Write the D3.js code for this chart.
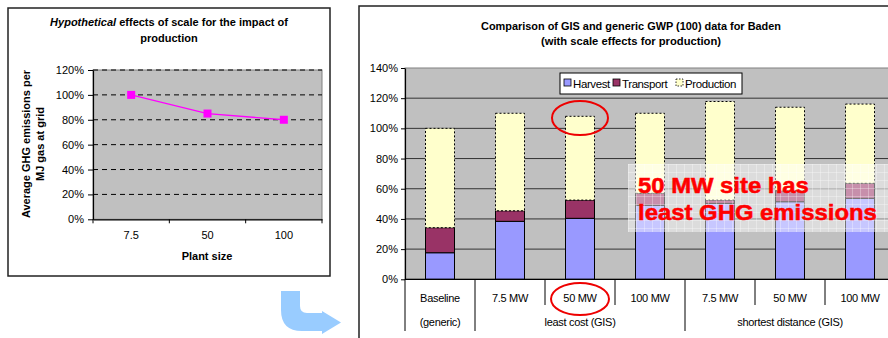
<!DOCTYPE html>
<html>
<head>
<meta charset="utf-8">
<script src="https://cdn.jsdelivr.net/npm/d3@7/dist/d3.min.js"></script>
<style>
  html, body { margin: 0; padding: 0; background: #fff; }
  svg { display: block; font-family: "Liberation Sans", Arial, sans-serif; }
</style>
</head>
<body>
<svg id="chart" width="888" height="338"></svg>
<script>
// ---- Data: hypothetical scale effects (left panel) ----
const plantSizes = ["7.5", "50", "100"];
const scaleEffect = [100, 85, 80];
const leftTicks = [0, 20, 40, 60, 80, 100, 120];

// ---- Data: GIS vs generic GWP(100) for Baden (right panel) ----
const siteLabels = ["Baseline", "7.5 MW", "50 MW", "100 MW", "7.5 MW", "50 MW", "100 MW"];
const groupLabels = ["(generic)", "least cost (GIS)", "shortest distance (GIS)"];
const groupSpans = [[0, 0], [1, 3], [4, 6]];
const harvest    = [17.6, 38.4, 40.4, 49.0, 50.3, 51.4, 53.6];
const transport  = [16.6,  7.0, 12.1,  8.0,  2.2,  7.3, 10.0];
const production = [65.8, 64.6, 55.5, 53.0, 65.3, 55.3, 52.5];
const seriesNames = ["Harvest", "Transport", "Production"];
const rightTicks = [0, 20, 40, 60, 80, 100, 120, 140];

const svg = d3.select("#chart");
const pct = d => d + "%";

// =================== Left panel ===================
svg.append("rect").attr("x", 8).attr("y", 8).attr("width", 322).attr("height", 268)
  .attr("fill", "#fff").attr("stroke", "#222").attr("stroke-width", 1.5);

const xL = d3.scaleBand().domain(plantSizes).range([93, 322]);
const yL = d3.scaleLinear().domain([0, 120]).range([219.3, 70]);

const left = svg.append("g");
left.append("rect").attr("x", 93).attr("y", yL(120)).attr("width", 229).attr("height", yL(0) - yL(120))
  .attr("fill", "#c0c0c0").attr("stroke", "#808080");

left.selectAll("line.grid").data(leftTicks.filter(d => d > 0)).join("line")
  .attr("x1", 93).attr("x2", 322).attr("y1", d => yL(d)).attr("y2", d => yL(d))
  .attr("stroke", "#000").attr("stroke-dasharray", "5,4");

const yAxisL = left.append("g").attr("transform", "translate(93,0)")
  .call(d3.axisLeft(yL).tickValues(leftTicks).tickFormat(pct).tickSize(5).tickSizeOuter(0));
const xAxisL = left.append("g").attr("transform", `translate(0,${yL(0)})`)
  .call(d3.axisBottom(xL).tickSize(0).tickPadding(12));
// tick marks at category boundaries
left.selectAll("line.btick").data(d3.range(plantSizes.length + 1)).join("line")
  .attr("x1", i => 93 + i * xL.step()).attr("x2", i => 93 + i * xL.step())
  .attr("y1", yL(0)).attr("y2", yL(0) + 4).attr("stroke", "#000");
[yAxisL, xAxisL].forEach(a => {
  a.select(".domain").attr("stroke", "#000").attr("stroke-width", 1.2);
  a.selectAll("text").attr("font-size", 11).attr("fill", "#000").attr("font-family", "Liberation Sans, Arial, sans-serif");
});
yAxisL.selectAll("text").attr("x", -9);

const line = d3.line().x((d, i) => xL(plantSizes[i]) + xL.bandwidth() / 2).y(d => yL(d));
left.append("path").datum(scaleEffect).attr("d", line)
  .attr("fill", "none").attr("stroke", "#ff00ff").attr("stroke-width", 1.3);
left.selectAll("rect.pt").data(scaleEffect).join("rect")
  .attr("x", (d, i) => xL(plantSizes[i]) + xL.bandwidth() / 2 - 4)
  .attr("y", d => yL(d) - 4).attr("width", 8).attr("height", 8).attr("fill", "#ff00ff");

const tL = left.append("text").attr("x", 169).attr("y", 26).attr("text-anchor", "middle")
  .attr("font-size", 11).attr("font-weight", "bold");
tL.append("tspan").attr("font-style", "italic").text("Hypothetical");
tL.append("tspan").text(" effects of scale for the impact of");
left.append("text").attr("x", 169).attr("y", 42).attr("text-anchor", "middle")
  .attr("font-size", 11).attr("font-weight", "bold").text("production");
left.append("text").attr("x", 207).attr("y", 260).attr("text-anchor", "middle")
  .attr("font-size", 11).attr("font-weight", "bold").text("Plant size");
const yTitle = left.append("text").attr("transform", "translate(30,144) rotate(-90)")
  .attr("text-anchor", "middle").attr("font-size", 11).attr("font-weight", "bold");
yTitle.append("tspan").attr("x", 0).attr("y", 0).text("Average GHG emissions per");
yTitle.append("tspan").attr("x", 0).attr("y", 14).text("MJ gas at grid");

// curved arrow pointing to the right panel
svg.append("path")
  .attr("d", "M281 291 L300 291 L300 306 Q300 313 307 313 L322 313 L322 311 L341 322.5 L322 334 L322 331 L302 331 Q281 331 281 310 Z")
  .attr("fill", "#99ccff");

// =================== Right panel ===================
svg.append("path").attr("d", "M359 338 L359 6 L888 6")
  .attr("fill", "none").attr("stroke", "#222").attr("stroke-width", 1.5);

const idx = d3.range(siteLabels.length);
const xR = d3.scaleBand().domain(idx).range([405, 895]);
const yR = d3.scaleLinear().domain([0, 140]).range([279.3, 68]);
const barW = 29;

const right = svg.append("g");
right.append("rect").attr("x", 405).attr("y", yR(140)).attr("width", 490).attr("height", yR(0) - yR(140))
  .attr("fill", "#c0c0c0").attr("stroke", "#808080");
right.selectAll("line.grid").data(rightTicks.filter(d => d > 0 && d < 140)).join("line")
  .attr("x1", 405).attr("x2", 895).attr("y1", d => yR(d)).attr("y2", d => yR(d))
  .attr("stroke", "#333").attr("stroke-width", 1);

const stackData = idx.map(i => ({ i, Harvest: harvest[i], Transport: transport[i], Production: production[i] }));
const stacked = d3.stack().keys(seriesNames)(stackData);
const fills = { Harvest: "#9999ff", Transport: "#993366", Production: "#ffffcc" };

stacked.forEach(layer => {
  right.selectAll(null).data(layer).join("rect")
    .attr("x", d => xR(d.data.i) + xR.bandwidth() / 2 - barW / 2)
    .attr("y", d => yR(d[1]))
    .attr("width", barW)
    .attr("height", d => yR(d[0]) - yR(d[1]))
    .attr("fill", fills[layer.key])
    .attr("stroke", "#000")
    .attr("stroke-width", 1)
    .attr("stroke-dasharray", layer.key === "Production" ? "2,2" : null);
});

const yAxisR = right.append("g").attr("transform", "translate(405,0)")
  .call(d3.axisLeft(yR).tickValues(rightTicks).tickFormat(pct).tickSize(4).tickSizeOuter(0));
yAxisR.select(".domain").attr("stroke", "#000").attr("stroke-width", 1.2);
yAxisR.selectAll("text").attr("font-size", 11).attr("fill", "#000").attr("x", -7)
  .attr("font-family", "Liberation Sans, Arial, sans-serif");

// category table below the bars
right.append("line").attr("x1", 405).attr("x2", 888).attr("y1", yR(0)).attr("y2", yR(0))
  .attr("stroke", "#000").attr("stroke-width", 1.2);
const groupStarts = groupSpans.map(s => s[0]);
right.selectAll("line.sep").data(d3.range(siteLabels.length + 1)).join("line")
  .attr("x1", i => 405 + i * xR.step()).attr("x2", i => 405 + i * xR.step())
  .attr("y1", yR(0)).attr("y2", i => (groupStarts.includes(i) || i === siteLabels.length) ? 331 : 305)
  .attr("stroke", "#000");
right.selectAll("text.cat").data(idx).join("text")
  .attr("x", i => xR(i) + xR.bandwidth() / 2).attr("y", 302)
  .attr("text-anchor", "middle").attr("font-size", 11).attr("letter-spacing", -0.3)
  .text(i => siteLabels[i]);
right.selectAll("text.grp").data(groupSpans).join("text")
  .attr("x", (s) => (xR(s[0]) + xR(s[1]) + xR.bandwidth()) / 2).attr("y", 326)
  .attr("text-anchor", "middle").attr("font-size", 11).attr("letter-spacing", -0.3)
  .text((s, k) => groupLabels[k]);

// title
right.append("text").attr("x", 631).attr("y", 29.5).attr("text-anchor", "middle")
  .attr("font-size", 11).attr("font-weight", "bold")
  .attr("textLength", 300).attr("lengthAdjust", "spacingAndGlyphs")
  .text("Comparison of GIS and generic GWP (100) data for Baden");
right.append("text").attr("x", 631).attr("y", 45).attr("text-anchor", "middle")
  .attr("font-size", 11).attr("font-weight", "bold")
  .attr("textLength", 180).attr("lengthAdjust", "spacingAndGlyphs")
  .text("(with scale effects for production)");

// legend
const lg = right.append("g");
lg.append("rect").attr("x", 560).attr("y", 73).attr("width", 182).attr("height", 21)
  .attr("fill", "#fff").attr("stroke", "#000");
const legendX = [564, 613, 676];
seriesNames.forEach((name, k) => {
  lg.append("rect").attr("x", legendX[k]).attr("y", 79).attr("width", 7).attr("height", 7)
    .attr("fill", fills[name]).attr("stroke", "#000").attr("stroke-width", 0.8)
    .attr("stroke-dasharray", name === "Production" ? "1.5,1.5" : null);
  lg.append("text").attr("x", legendX[k] + 9).attr("y", 88).attr("font-size", 11.5)
    .attr("letter-spacing", -0.4).text(name);
});

// highlight for the 50 MW least-cost site
right.append("ellipse").attr("cx", xR(2) + xR.bandwidth() / 2).attr("cy", 118).attr("rx", 28).attr("ry", 17)
  .attr("fill", "none").attr("stroke", "#ee0000").attr("stroke-width", 2);
right.append("ellipse").attr("cx", xR(2) + xR.bandwidth() / 2).attr("cy", 299).attr("rx", 29).attr("ry", 16)
  .attr("fill", "none").attr("stroke", "#ee0000").attr("stroke-width", 2);

// callout box with translucent grid
const defs = svg.append("defs");
const pat = defs.append("pattern").attr("id", "gridPat").attr("width", 8).attr("height", 8)
  .attr("patternUnits", "userSpaceOnUse").attr("x", 628).attr("y", 164);
pat.append("rect").attr("width", 8).attr("height", 8).attr("fill", "#fff").attr("fill-opacity", 0.45);
pat.append("path").attr("d", "M0 0.5 H8 M0.5 0 V8").attr("stroke", "#fff").attr("stroke-opacity", 0.3).attr("stroke-width", 1);
right.append("rect").attr("x", 628).attr("y", 164).attr("width", 260).attr("height", 68)
  .attr("fill", "url(#gridPat)");

// callout text, widened horizontally to its measured box
const callout = ["50 MW site has", "least GHG emissions"];
const calloutY = [193, 220];
const calloutW = [171, 239];
callout.forEach((txt, k) => {
  const t = right.append("text")
    .attr("font-size", 21.5).attr("font-weight", "bold").attr("fill", "#ff0000")
    .attr("stroke", "#ff0000").attr("stroke-width", 0.5)
    .text(txt);
  const w = t.node().getBBox().width || calloutW[k];
  t.attr("transform", `translate(638,${calloutY[k]}) scale(${calloutW[k] / w},1)`);
});
</script>
</body>
</html>
